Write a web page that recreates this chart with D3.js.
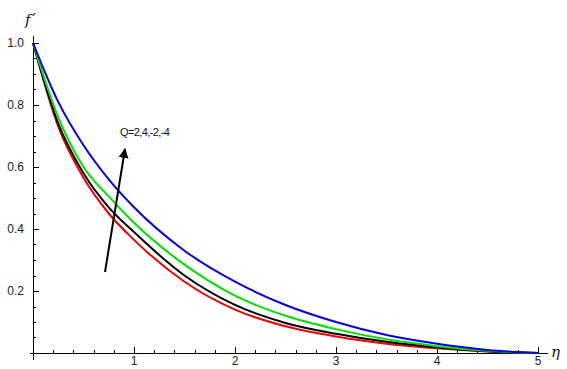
<!DOCTYPE html>
<html>
<head>
<meta charset="utf-8">
<script src="https://cdn.jsdelivr.net/npm/d3@7"></script>
<style>
	body { margin: 0; background: #fff; }
	svg { display: block; }
	.tickLabel { font-family: "Liberation Sans", Arial, sans-serif; font-size: 12px; fill: #222; }
	.axisTitle { font-family: "DejaVu Serif", "Liberation Serif", serif; font-style: italic; font-size: 15px; fill: #111; }
	.note { font-family: "Liberation Sans", Arial, sans-serif; font-size: 11px; letter-spacing: -0.6px; fill: #111; }
</style>
</head>
<body>
<div id="chart"></div>
<script>
//values of f', one array per curve
const eta = [0, 0.25, 0.5, 0.75, 1, 1.5, 2, 2.5, 3, 3.5, 4, 4.5, 5];
const blueValues  = [1.0, 0.81, 0.67, 0.56, 0.47, 0.33, 0.23, 0.155, 0.10, 0.058, 0.030, 0.010, 0.0];
const greenValues = [1.0, 0.76, 0.60, 0.505, 0.42, 0.285, 0.185, 0.12, 0.077, 0.044, 0.022, 0.007, 0.0];
const blackValues = [1.0, 0.74, 0.58, 0.47, 0.39, 0.25, 0.155, 0.097, 0.062, 0.036, 0.018, 0.006, 0.0];
const redValues   = [1.0, 0.73, 0.565, 0.45, 0.365, 0.23, 0.14, 0.086, 0.053, 0.03, 0.015, 0.005, 0.0];

const xTickLabels = ["1", "2", "3", "4", "5"];
const yTickLabels = ["0.2", "0.4", "0.6", "0.8", "1.0"];
const annotation = "Q=2,4,-2,-4";

const width = 567, height = 369;

const svg = d3.select("#chart")
	.append("svg")
	.attr("width", width)
	.attr("height", height);

const x = d3.scaleLinear().domain([0, 5]).range([33, 538]);
const y = d3.scaleLinear().domain([0, 1]).range([353, 43]);

drawAxes();
drawCurves();
drawAnnotation();

//both axes: lines, inward ticks (major + minor), labels
function drawAxes(){
	let axes = svg.append("g").attr("stroke", "#000").attr("stroke-width", 1);

	axes.append("line")
		.attr("x1", 30).attr("x2", 548)
		.attr("y1", y(0) + 0.5).attr("y2", y(0) + 0.5);
	axes.append("line")
		.attr("x1", x(0) + 0.5).attr("x2", x(0) + 0.5)
		.attr("y1", 36).attr("y2", 360);

	//x ticks every 0.2, major on whole numbers
	let xTicks = d3.range(1, 26).map(function(i){ return i * 0.2; });
	axes.selectAll(".xt")
		.data(xTicks)
		.enter()
		.append("line")
		.attr("x1", function(d){ return Math.round(x(d)) + 0.5; })
		.attr("x2", function(d){ return Math.round(x(d)) + 0.5; })
		.attr("y1", y(0))
		.attr("y2", function(d){ return y(0) - (Math.abs(d - Math.round(d)) < 1e-6 ? 6 : 3); });

	//y ticks every 0.05, major every 0.2
	let yTicks = d3.range(1, 21).map(function(i){ return i * 0.05; });
	axes.selectAll(".yt")
		.data(yTicks)
		.enter()
		.append("line")
		.attr("y1", function(d){ return Math.round(y(d)) + 0.5; })
		.attr("y2", function(d){ return Math.round(y(d)) + 0.5; })
		.attr("x1", x(0))
		.attr("x2", function(d){ return x(0) + (Math.abs(d * 5 - Math.round(d * 5)) < 1e-6 ? 6 : 3); });

	svg.selectAll(".xl")
		.data(xTickLabels)
		.enter()
		.append("text")
		.attr("class", "tickLabel")
		.attr("x", function(d){ return x(+d); })
		.attr("y", 365)
		.attr("text-anchor", "middle")
		.text(function(d){ return d; });

	svg.selectAll(".yl")
		.data(yTickLabels)
		.enter()
		.append("text")
		.attr("class", "tickLabel")
		.attr("x", 24)
		.attr("y", function(d){ return y(+d) + 4; })
		.attr("text-anchor", "end")
		.text(function(d){ return d; });

	let fLabel = svg.append("text")
		.attr("class", "axisTitle")
		.attr("x", 25).attr("y", 25)
		.text("f");
	fLabel.append("tspan")
		.attr("font-style", "normal")
		.attr("font-family", "DejaVu Sans, sans-serif")
		.attr("dx", 2)
		.text("\u2032");
	svg.append("text")
		.attr("class", "axisTitle")
		.attr("x", 551).attr("y", 357)
		.text("\u03b7");
}

//one path per series, drawn bottom (red) to top (blue)
function drawCurves(){
	let series = [
		{values: redValues, color: "#ee0000"},
		{values: blackValues, color: "#000000"},
		{values: greenValues, color: "#00e000"},
		{values: blueValues, color: "#0000ee"}
	];
	let line = d3.line()
		.x(function(d){ return x(d[0]); })
		.y(function(d){ return y(d[1]); })
		.curve(d3.curveMonotoneX);

	svg.selectAll(".curve")
		.data(series)
		.enter()
		.append("path")
		.attr("class", "curve")
		.attr("fill", "none")
		.attr("stroke", function(d){ return d.color; })
		.attr("stroke-width", 2)
		.attr("d", function(d){ return line(d3.zip(eta, d.values)); });
}

//arrow pointing towards growing Q and its label
function drawAnnotation(){
	svg.append("defs")
		.append("marker")
		.attr("id", "head")
		.attr("viewBox", "0 0 10 10")
		.attr("refX", 9).attr("refY", 5)
		.attr("markerWidth", 5).attr("markerHeight", 7)
		.attr("markerUnits", "strokeWidth")
		.attr("orient", "auto")
		.append("path")
		.attr("d", "M0,0 L10,5 L0,10 Z")
		.attr("fill", "#000");

	svg.append("line")
		.attr("x1", 105).attr("y1", 272)
		.attr("x2", 125).attr("y2", 149)
		.attr("stroke", "#000")
		.attr("stroke-width", 2)
		.attr("marker-end", "url(#head)");

	svg.append("text")
		.attr("class", "note")
		.attr("x", 120).attr("y", 136)
		.text(annotation);
}
</script>
</body>
</html>
